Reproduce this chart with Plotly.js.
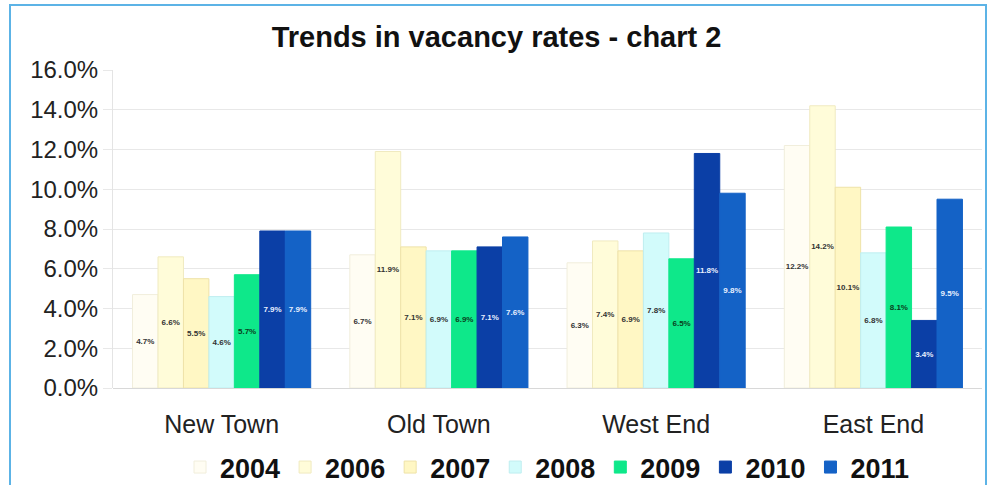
<!DOCTYPE html>
<html>
<head>
<meta charset="utf-8">
<script src="https://cdn.plot.ly/plotly-3.0.1.min.js"></script>
<style>
html,body{margin:0;padding:0;background:#fff;}
#chart{width:993px;height:485px;}
#frame{position:absolute;left:9px;top:4px;width:974px;height:490px;border:2px solid #5cb3e6;pointer-events:none;}
</style>
</head>
<body>
<div id="chart"></div>
<div id="frame"></div>
<script>
const categories = ["New Town", "Old Town", "West End", "East End"];
const years = ["2004", "2006", "2007", "2008", "2009", "2010", "2011"];
const v2004 = [4.7, 6.7, 6.3, 12.2];
const v2006 = [6.6, 11.9, 7.4, 14.2];
const v2007 = [5.5, 7.1, 6.9, 10.1];
const v2008 = [4.6, 6.9, 7.8, 6.8];
const v2009 = [5.7, 6.9, 6.5, 8.1];
const v2010 = [7.9, 7.1, 11.8, 3.4];
const v2011 = [7.9, 7.6, 9.8, 9.5];
const yTicks = [0, 2, 4, 6, 8, 10, 12, 14, 16];

const series = [v2004, v2006, v2007, v2008, v2009, v2010, v2011];
const fills = ["#fffdf3", "#fffcd9", "#fff7c4", "#d2fbfb", "#0ee88a", "#0b3fa6", "#1462c6"];
const lines = ["#f1eedc", "#f0eac0", "#eee2a8", "#bfeef0", "#0ee88a", "#0b3fa6", "#1462c6"];
const textCol = ["#333", "#333", "#333", "#333", "#0a4020", "#e8f0ff", "#e8f0ff"];

const traces = series.map((vals, i) => ({
  type: "bar",
  name: years[i],
  x: categories,
  y: vals,
  text: vals.map(v => v.toFixed(1) + "%"),
  textposition: "inside",
  insidetextanchor: "middle",
  textangle: 0,
  textfont: {family: "Arial, Liberation Sans, sans-serif", size: 8, color: textCol[i], weight: "bold"},
  constraintext: "none",
  marker: {color: fills[i], line: {color: lines[i], width: 1}},
  hoverinfo: "none"
}));

const layout = {
  width: 993, height: 485,
  margin: {l: 113, r: 11, t: 70, b: 97, autoexpand: false},
  paper_bgcolor: "#fff", plot_bgcolor: "#fff",
  title: {text: "<b>Trends in vacancy rates - chart 2</b>", x: 0.5, xanchor: "center", y: 0.925, yanchor: "middle",
          font: {family: "Arial, Liberation Sans, sans-serif", size: 29, color: "#111"}},
  font: {family: "Arial, Liberation Sans, sans-serif", color: "#222"},
  barmode: "group",
  bargap: 0.18,
  bargroupgap: 0,
  xaxis: {showgrid: false, showline: false, ticks: "", tickfont: {size: 25, color: "#222"}, ticklabelstandoff: 19},
  yaxis: {range: [0, 16], tickvals: yTicks, ticktext: yTicks.map(t => t.toFixed(1) + "%"),
          gridcolor: "#e8e8e8", gridwidth: 1, showline: true, linecolor: "#e4e4e4", zeroline: true, zerolinecolor: "#d8d8d8",
          tickfont: {size: 24, color: "#222"}, ticks: "outside", ticklen: 9, tickcolor: "#e8e8e8"},
  legend: {orientation: "h", x: 0.5, xanchor: "center", y: -0.25, yanchor: "middle",
           font: {size: 27, color: "#111", weight: "bold"}, traceorder: "normal", itemwidth: 30},
  showlegend: true
};

Plotly.newPlot("chart", traces, layout, {displayModeBar: false, staticPlot: true});
</script>
</body>
</html>
